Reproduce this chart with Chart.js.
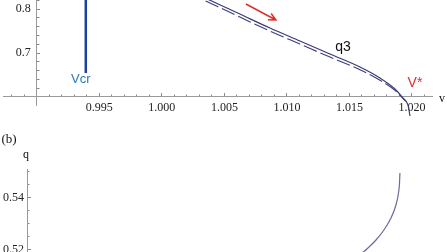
<!DOCTYPE html>
<html>
<head>
<meta charset="utf-8">
<script src="https://cdn.jsdelivr.net/npm/chart.js@4/dist/chart.umd.min.js"></script>
<style>
  html, body { margin: 0; padding: 0; background: #fff; }
  #wrap { position: relative; width: 447px; height: 252px; overflow: hidden; }
  #wrap canvas { position: absolute; left: 0; }
</style>
</head>
<body>
<div id="wrap">
  <canvas id="topChart" width="447" height="126" style="top:0"></canvas>
  <canvas id="botChart" width="447" height="126" style="top:126px"></canvas>
</div>
<script>
// panel (a): branch q3 against v (solid and dashed)
var q3V = [1.0035, 1.00624, 1.00864, 1.01104, 1.01344, 1.01584, 1.01744, 1.01864, 1.01928, 1.01968, 1.01984];
var q3Q = [0.8245, 0.7886, 0.7568, 0.7273, 0.6977, 0.6682, 0.6432, 0.6182, 0.5977, 0.5818, 0.5568];
var q3DashV = [1.0035, 1.00624, 1.00864, 1.01104, 1.01344, 1.01584, 1.01744, 1.01864, 1.01928, 1.0195];
var q3DashQ = [0.8185, 0.7816, 0.7498, 0.7203, 0.6907, 0.6622, 0.6382, 0.6152, 0.5967, 0.5900];
var vcrV = [0.99392, 0.99392];
var vcrQ = [0.83, 0.6545];
var arrowV = [1.00672, 1.00912];
var arrowQ = [0.8114, 0.7750];
var xMajorTicks = [0.995, 1.000, 1.005, 1.010, 1.015, 1.020];
var yMajorTicks = [0.7, 0.8];

// panel (b)
var bV = [1.01910, 1.01902, 1.01879, 1.01840, 1.01785, 1.01723, 1.01660, 1.01606];
var bQ = [0.54962, 0.54308, 0.53731, 0.53231, 0.52769, 0.52385, 0.52077, 0.51846];
var bMajorTicks = [0.52, 0.54];

function pts(xs, ys) {
    var out = [];
    for (var i = 0; i < xs.length; i++) out.push({x: xs[i], y: ys[i]});
    return out;
}
function steps(a, b, s) {
    var out = [];
    for (var v = a; v <= b + s / 2; v += s) out.push({value: Math.round(v * 10000) / 10000});
    return out;
}

var serif = 'Liberation Serif';
var sans = 'Liberation Sans';

function axis(dir, o) {
    return {
        type: 'linear',
        axis: dir,
        min: o.min,
        max: o.max,
        display: o.display === undefined ? true : o.display,
        position: o.position,
        afterFit: function(s) {
            if (dir === 'x') s.height = 0; else s.width = 0;
            s.paddingTop = s.paddingBottom = s.paddingLeft = s.paddingRight = 0;
        },
        afterBuildTicks: function(s) { s.ticks = o.ticks; },
        grid: { drawOnChartArea: false, tickLength: o.tickLength, color: '#8a8a8a', lineWidth: 1 },
        border: { display: !o.minor, color: '#9a9a9a', width: 1 },
        ticks: {
            display: !o.minor,
            autoSkip: false,
            maxRotation: 0,
            padding: o.padding || 0,
            color: '#222',
            font: { family: serif, size: 12 },
            callback: o.fmt
        }
    };
}

function drawText(ctx, txt, x, y, color, font) {
    ctx.fillStyle = color;
    ctx.font = font;
    ctx.textAlign = 'center';
    ctx.textBaseline = 'middle';
    ctx.fillText(txt, x, y);
}

var topLabels = {
    id: 'topLabels',
    afterDatasetsDraw: function(chart) {
        var ctx = chart.ctx, xs = chart.scales.x, ys = chart.scales.y;
        ctx.save();
        drawText(ctx, 'Vcr', xs.getPixelForValue(0.99352), ys.getPixelForValue(0.6409), '#2b79b9', '13px ' + sans);
        drawText(ctx, 'q3', xs.getPixelForValue(1.01448), ys.getPixelForValue(0.7136), '#111', '14px ' + sans);
        drawText(ctx, 'V*', xs.getPixelForValue(1.02024), ys.getPixelForValue(0.6318), '#d9302c', '14px ' + sans);
        drawText(ctx, 'v', chart.chartArea.right + 10, ys.getPixelForValue(0.6) + 2, '#111', '12px ' + serif);
        // red arrow
        var x1 = xs.getPixelForValue(arrowV[0]), y1 = ys.getPixelForValue(arrowQ[0]);
        var x2 = xs.getPixelForValue(arrowV[1]), y2 = ys.getPixelForValue(arrowQ[1]);
        var a = Math.atan2(y2 - y1, x2 - x1);
        ctx.strokeStyle = '#d9302c';
        ctx.lineWidth = 1.5;
        ctx.beginPath();
        ctx.moveTo(x1, y1);
        ctx.lineTo(x2, y2);
        ctx.moveTo(x2 - 8 * Math.cos(a - 0.45), y2 - 8 * Math.sin(a - 0.45));
        ctx.lineTo(x2, y2);
        ctx.lineTo(x2 - 8 * Math.cos(a + 0.45), y2 - 8 * Math.sin(a + 0.45));
        ctx.stroke();
        ctx.restore();
    }
};

var botLabels = {
    id: 'botLabels',
    afterDatasetsDraw: function(chart) {
        var ctx = chart.ctx;
        ctx.save();
        drawText(ctx, '(b)', 9, 14, '#111', '13px ' + serif);
        drawText(ctx, 'q', 26, 29, '#111', '12px ' + serif);
        ctx.restore();
    }
};

// trailing spaces keep the y labels clear of the axis line
var topChart = new Chart(document.getElementById('topChart'), {
    type: 'scatter',
    data: {
        datasets: [{
            label: 'Vcr',
            data: pts(vcrV, vcrQ),
            showLine: true,
            borderColor: '#1d3f9e',
            borderWidth: 2.5,
            pointRadius: 0,
            clip: false
        }, {
            label: 'q3 dashed',
            data: pts(q3DashV, q3DashQ),
            showLine: true,
            borderColor: '#3d3d7c',
            borderWidth: 1.1,
            borderDash: [14, 4],
            pointRadius: 0,
            cubicInterpolationMode: 'monotone',
            clip: false
        }, {
            label: 'q3',
            data: pts(q3V, q3Q),
            showLine: true,
            borderColor: '#3a3a78',
            borderWidth: 1.2,
            pointRadius: 0,
            cubicInterpolationMode: 'monotone',
            clip: false
        }]
    },
    options: {
        responsive: false,
        animation: false,
        layout: { padding: { left: 3, right: 15, top: 0, bottom: 21 } },
        plugins: { legend: { display: false }, tooltip: { enabled: false } },
        scales: {
            x: axis('x', { min: 0.9873, max: 1.0216, position: { y: 0.6 }, ticks: xMajorTicks.map(function(v) { return {value: v}; }),
                tickLength: -4, padding: 8, fmt: function(v) { return v.toFixed(3); } }),
            xm: axis('x', { min: 0.9873, max: 1.0216, position: { y: 0.6 }, ticks: steps(0.988, 1.021, 0.001), tickLength: -2.5, minor: true }),
            y: axis('y', { min: 0.5818, max: 0.8205, position: { x: 0.99 }, ticks: yMajorTicks.map(function(v) { return {value: v}; }),
                tickLength: -4, fmt: function(v) { return v.toFixed(1) + '  '; } }),
            ym: axis('y', { min: 0.5818, max: 0.8205, position: { x: 0.99 }, ticks: steps(0.6, 0.82, 0.02), tickLength: -2.5, minor: true })
        }
    },
    plugins: [topLabels]
});

var botChart = new Chart(document.getElementById('botChart'), {
    type: 'scatter',
    data: {
        datasets: [{
            label: 'q',
            data: pts(bV, bQ),
            showLine: true,
            borderColor: '#6a6a9c',
            borderWidth: 1.2,
            pointRadius: 0,
            tension: 0.4,
            clip: false
        }]
    },
    options: {
        responsive: false,
        animation: false,
        layout: { padding: { left: 27, right: 15, top: 43, bottom: 0 } },
        plugins: { legend: { display: false }, tooltip: { enabled: false } },
        scales: {
            x: axis('x', { min: 0.99, max: 1.0216, display: false, position: 'bottom', ticks: [] }),
            y: axis('y', { min: 0.51923, max: 0.55115, position: { x: 0.99 }, ticks: bMajorTicks.map(function(v) { return {value: v}; }),
                tickLength: -4, fmt: function(v) { return v.toFixed(2) + ' '; } }),
            ym: axis('y', { min: 0.51923, max: 0.55115, position: { x: 0.99 }, ticks: steps(0.52, 0.55, 0.005), tickLength: -2.5, minor: true })
        }
    },
    plugins: [botLabels]
});
</script>
</body>
</html>
